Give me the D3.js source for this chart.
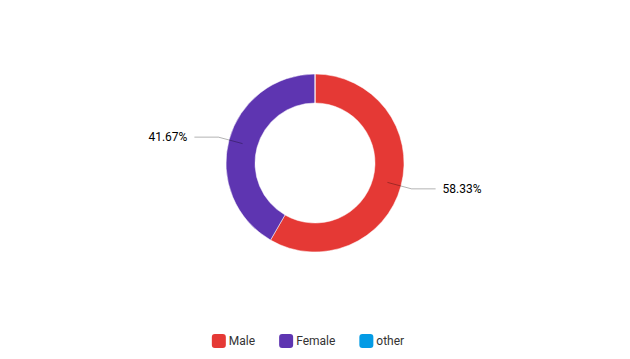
<!DOCTYPE html>
<html>
<head>
<meta charset="utf-8">
<script src="https://cdn.jsdelivr.net/npm/d3@7"></script>
<style>
  body { margin: 0; background: #fff; }
  text { font-family: Roboto, "Noto Sans", sans-serif; }
</style>
</head>
<body>
<svg id="donut" width="630" height="359"></svg>
<script>
var categories = ["Male", "Female", "other"];
var values = [58.33, 41.67, 0];
var colours = ["#e53935", "#5e35b1", "#039be5"];

var svg = d3.select("#donut"),
    width = +svg.attr("width"),
    height = +svg.attr("height");

var cx = 315, cy = 163,
    outerR = 89, innerR = 60;

var data = categories.map(function(c, i) { return {name: c, value: values[i]}; });

var colour = d3.scaleOrdinal().domain(categories).range(colours);

var pie = d3.pie().sort(null).value(function(d) { return d.value; });
var arc = d3.arc().innerRadius(innerR).outerRadius(outerR);

var chart = svg.append("g").attr("transform", "translate(" + cx + "," + cy + ")");

var arcs = pie(data);

chart.selectAll("path.slice")
    .data(arcs)
    .enter().append("path")
    .attr("class", "slice")
    .attr("d", arc)
    .attr("fill", function(d) { return colour(d.data.name); })
    .attr("stroke", "#fff")
    .attr("stroke-width", 0.5);

// label lines + labels
var shown = arcs.filter(function(d) { return d.data.value > 0; });

function pt(angle, r) { return [Math.sin(angle) * r, -Math.cos(angle) * r]; }

shown.forEach(function(d) {
    var mid = (d.startAngle + d.endAngle) / 2;
    var right = Math.sin(mid) > 0;
    var a = pt(mid, 75), b = pt(mid, 100);
    var c = [b[0] + (right ? 24 : -24), b[1]];
    chart.append("polyline")
        .attr("points", [a, b, c].map(function(p) { return p.join(","); }).join(" "))
        .attr("fill", "none")
        .attr("stroke", "rgba(0,0,0,0.3)")
        .attr("stroke-width", 1);
    chart.append("text")
        .attr("x", c[0] + (right ? 7 : -7))
        .attr("y", c[1])
        .attr("dy", "0.35em")
        .attr("text-anchor", right ? "start" : "end")
        .attr("font-size", 12)
        .attr("fill", "#000")
        .text(d.data.value.toFixed(2) + "%");
});

// legend
var legend = svg.append("g");
var x = 0;
categories.forEach(function(c) {
    var g = legend.append("g").attr("transform", "translate(" + x + ",0)");
    g.append("rect")
        .attr("x", 0).attr("y", -7)
        .attr("width", 14).attr("height", 14)
        .attr("rx", 3)
        .attr("fill", colour(c));
    var t = g.append("text")
        .attr("x", 17).attr("y", 0)
        .attr("dy", "0.35em")
        .attr("font-size", 12)
        .attr("fill", "#333")
        .text(c);
    x += 17 + t.node().getComputedTextLength() + 24;
});
var legendW = x - 24;
legend.attr("transform", "translate(" + (308 - legendW / 2) + ",341)");
</script>
</body>
</html>
